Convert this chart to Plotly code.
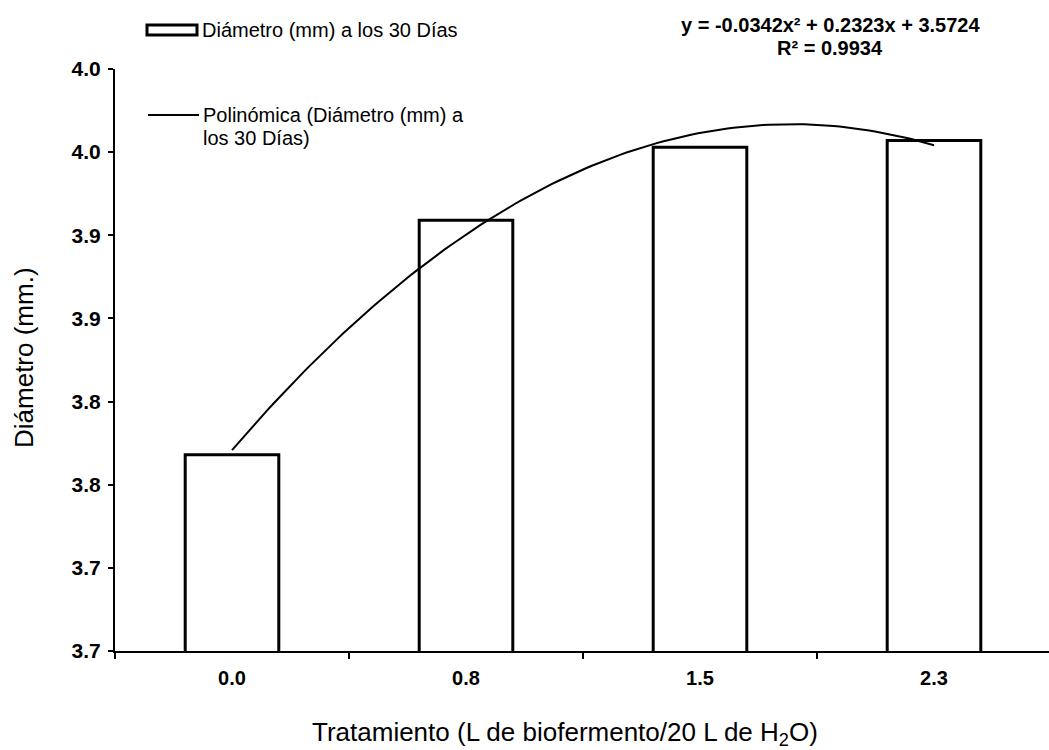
import numpy as np
import plotly.graph_objects as go

# ---- data ----
categories = ["0.0", "0.8", "1.5", "2.3"]
positions = [1, 2, 3, 4]
diametro_30 = [3.768, 3.909, 3.953, 3.957]
y_tickvals = [3.65, 3.70, 3.75, 3.80, 3.85, 3.90, 3.95, 4.00]
y_ticktext = ["3.7", "3.7", "3.8", "3.8", "3.9", "3.9", "4.0", "4.0"]
equation_lines = ["y = -0.0342x² + 0.2323x + 3.5724", "R² = 0.9934"]
bar_name = "Diámetro (mm) a los 30 Días"
trend_name_lines = ["Polinómica (Diámetro (mm) a", "los 30 Días)"]
x_title = "Tratamiento (L de biofermento/20 L de H<sub>2</sub>O)"
y_title = "Diámetro (mm.)"

# polynomial (order 2) trendline fitted to the bars
coef = np.polyfit(positions, diametro_30, 2)
xs = np.linspace(positions[0], positions[-1], 120)
ys = np.polyval(coef, xs)

W, H = 1049, 750
L, R, T, B = 115, 0, 69, 99
pw, ph = W - L - R, H - T - B
cat_px = 234.0

def px(x):
    return (x - L) / pw

def py(y):
    return (H - B - y) / ph

FONT = "Liberation Sans, Arial, sans-serif"

fig = go.Figure()
fig.add_trace(go.Bar(
    x=positions, y=diametro_30, width=0.40, name=bar_name,
    marker=dict(color="white", line=dict(color="black", width=3)),
    showlegend=False,
))
fig.add_trace(go.Scatter(
    x=xs, y=ys, mode="lines", name=" ".join(trend_name_lines),
    line=dict(color="black", width=2), showlegend=False,
))

shapes = [
    # legend symbols
    dict(type="rect", xref="paper", yref="paper",
         x0=px(147), x1=px(197), y0=py(25), y1=py(35),
         line=dict(color="black", width=3), fillcolor="white"),
    dict(type="line", xref="paper", yref="paper",
         x0=px(148), x1=px(199), y0=py(115), y1=py(115),
         line=dict(color="black", width=2)),
]

def label(text, x, y, size, xanchor="left", bold=False):
    t = f"<b>{text}</b>" if bold else text
    return dict(text=t, xref="paper", yref="paper", x=px(x), y=py(y),
                xanchor=xanchor, yanchor="middle", showarrow=False,
                font=dict(family=FONT, size=size, color="black"))

annotations = [
    label(bar_name, 200, 30, 20),
    label(trend_name_lines[0], 201, 115, 20),
    label(trend_name_lines[1], 201, 138, 20),
    label(equation_lines[0], 830, 25, 20, xanchor="center", bold=True),
    label(equation_lines[1], 830, 48, 20, xanchor="center", bold=True),
    label(x_title, 565, 733, 26, xanchor="center"),
    dict(text=y_title, xref="paper", yref="paper", x=px(24), y=py(358),
         xanchor="center", yanchor="middle", textangle=-90, showarrow=False,
         font=dict(family=FONT, size=26, color="black")),
]

fig.update_layout(
    width=W, height=H,
    margin=dict(l=L, r=R, t=T, b=B, pad=0),
    paper_bgcolor="white", plot_bgcolor="white",
    font=dict(family=FONT, color="black"),
    showlegend=False,
    shapes=shapes, annotations=annotations,
    xaxis=dict(
        range=[0.5, 0.5 + pw / cat_px],
        tickvals=positions, ticktext=[f"<b>{c}</b>" for c in categories],
        ticks="", showgrid=False, zeroline=False,
        showline=True, linecolor="black", linewidth=2,
        tickfont=dict(family=FONT, size=20, color="black"),
        ticklabelstandoff=8,
        minor=dict(tickvals=[0.5, 1.5, 2.5, 3.5], ticks="outside",
                   ticklen=6, tickwidth=2, tickcolor="black", showgrid=False),
        fixedrange=True,
    ),
    yaxis=dict(
        range=[3.65, 4.00],
        tickvals=y_tickvals, ticktext=[f"<b>{t}</b>" for t in y_ticktext],
        ticks="outside", ticklen=5, tickwidth=2, tickcolor="black",
        showgrid=False, zeroline=False,
        showline=True, linecolor="black", linewidth=2,
        tickfont=dict(family=FONT, size=21, color="black"),
        ticklabelstandoff=3,
        fixedrange=True,
    ),
)

fig.write_html("out.html")
